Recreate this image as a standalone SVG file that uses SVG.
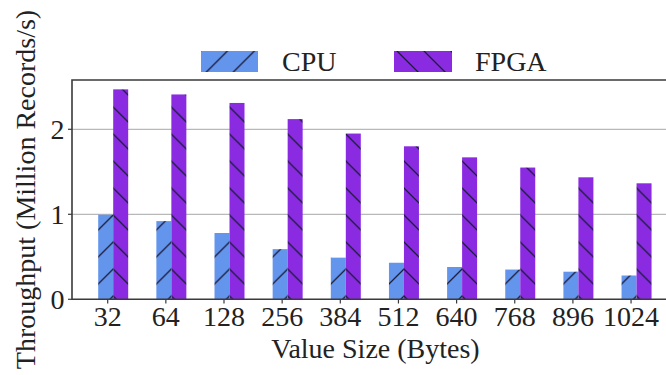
<svg xmlns="http://www.w3.org/2000/svg" width="666" height="375" viewBox="0 0 666 375" font-family="'Liberation Serif', 'DejaVu Serif', 'Times New Roman', serif">
  <style>
    text { font-family: "Liberation Serif", "DejaVu Serif", "Times New Roman", serif; font-size: 28px; fill: #222; }
    .tick { text-anchor: middle; }
    .ytick { text-anchor: end; }
    .spine { stroke: #3a3a3a; stroke-width: 1.6; fill: none; }
    .grid { stroke: #b8b8b8; stroke-width: 1.2; }
    .tk { stroke: #3a3a3a; stroke-width: 1.2; }
    .cpu { fill: url(#hatchCpu); }
    .fpga { fill: url(#hatchFpga); }
  </style>
  <defs>
    <!-- forward-slash hatch over cornflower blue -->
    <pattern id="hatchCpu" patternUnits="userSpaceOnUse" x="0" y="26" width="27" height="27">
      <rect width="27" height="27" fill="#6495ED"/>
      <path d="M-2,2 L2,-2 M0,27 L27,0 M25,29 L29,25" stroke="#1b1b3a" stroke-width="1.3"/>
    </pattern>
    <!-- back-slash hatch over blue-violet -->
    <pattern id="hatchFpga" patternUnits="userSpaceOnUse" x="0" y="26" width="27" height="27">
      <rect width="27" height="27" fill="#8A2BE2"/>
      <path d="M-2,25 L2,29 M0,0 L27,27 M25,-2 L29,2" stroke="#1b1b3a" stroke-width="1.3"/>
    </pattern>
  </defs>

  <!-- horizontal grid lines -->
  <g id="grid">
    <line class="grid" x1="72" y1="129.3" x2="666" y2="129.3"/>
    <line class="grid" x1="72" y1="214.3" x2="666" y2="214.3"/>
  </g>

  <!-- bar pairs: group origin sits on the CPU/FPGA boundary -->
  <g id="bars">
    <g id="bar-32" transform="translate(113.2,0)">
      <rect class="cpu" x="-15" y="214.7" width="15" height="84.6"/>
      <rect class="fpga" x="0" y="89.35" width="15" height="209.95"/>
    </g>
    <g id="bar-64" transform="translate(171.35,0)">
      <rect class="cpu" x="-15" y="221.1" width="15" height="78.2"/>
      <rect class="fpga" x="0" y="94.45" width="15" height="204.85"/>
    </g>
    <g id="bar-128" transform="translate(229.5,0)">
      <rect class="cpu" x="-15" y="233.0" width="15" height="66.3"/>
      <rect class="fpga" x="0" y="102.95" width="15" height="196.35"/>
    </g>
    <g id="bar-256" transform="translate(287.65,0)">
      <rect class="cpu" x="-15" y="249.15" width="15" height="50.15"/>
      <rect class="fpga" x="0" y="119.1" width="15" height="180.2"/>
    </g>
    <g id="bar-384" transform="translate(345.8,0)">
      <rect class="cpu" x="-15" y="257.65" width="15" height="41.65"/>
      <rect class="fpga" x="0" y="133.55" width="15" height="165.75"/>
    </g>
    <g id="bar-512" transform="translate(403.95,0)">
      <rect class="cpu" x="-15" y="262.75" width="15" height="36.55"/>
      <rect class="fpga" x="0" y="146.3" width="15" height="153"/>
    </g>
    <g id="bar-640" transform="translate(462.1,0)">
      <rect class="cpu" x="-15" y="267.0" width="15" height="32.3"/>
      <rect class="fpga" x="0" y="157.35" width="15" height="141.95"/>
    </g>
    <g id="bar-768" transform="translate(520.25,0)">
      <rect class="cpu" x="-15" y="269.55" width="15" height="29.75"/>
      <rect class="fpga" x="0" y="167.55" width="15" height="131.75"/>
    </g>
    <g id="bar-896" transform="translate(578.4,0)">
      <rect class="cpu" x="-15" y="271.7" width="15" height="27.6"/>
      <rect class="fpga" x="0" y="177.3" width="15" height="122"/>
    </g>
    <g id="bar-1024" transform="translate(636.55,0)">
      <rect class="cpu" x="-15" y="275.5" width="15" height="23.8"/>
      <rect class="fpga" x="0" y="183.3" width="15" height="116"/>
    </g>
  </g>

  <!-- axes frame and ticks -->
  <g id="axes">
    <path class="spine" d="M666,80 H72 V299.3 H666"/>
    <line class="tk" x1="68" y1="129.3" x2="72" y2="129.3"/>
    <line class="tk" x1="68" y1="214.3" x2="72" y2="214.3"/>
    <line class="tk" x1="68" y1="299.3" x2="72" y2="299.3"/>
    <line class="tk" x1="107.7" y1="299.3" x2="107.7" y2="303.5"/>
    <line class="tk" x1="165.85" y1="299.3" x2="165.85" y2="303.5"/>
    <line class="tk" x1="224" y1="299.3" x2="224" y2="303.5"/>
    <line class="tk" x1="282.15" y1="299.3" x2="282.15" y2="303.5"/>
    <line class="tk" x1="340.3" y1="299.3" x2="340.3" y2="303.5"/>
    <line class="tk" x1="398.45" y1="299.3" x2="398.45" y2="303.5"/>
    <line class="tk" x1="456.6" y1="299.3" x2="456.6" y2="303.5"/>
    <line class="tk" x1="514.75" y1="299.3" x2="514.75" y2="303.5"/>
    <line class="tk" x1="572.9" y1="299.3" x2="572.9" y2="303.5"/>
    <line class="tk" x1="631.05" y1="299.3" x2="631.05" y2="303.5"/>
  </g>

  <!-- tick labels -->
  <g id="yticks">
    <text class="ytick" x="64.5" y="139">2</text>
    <text class="ytick" x="64.5" y="224">1</text>
    <text class="ytick" x="64.5" y="309">0</text>
  </g>
  <g id="xticks">
    <text class="tick" x="107.7" y="326">32</text>
    <text class="tick" x="165.85" y="326">64</text>
    <text class="tick" x="224" y="326">128</text>
    <text class="tick" x="282.15" y="326">256</text>
    <text class="tick" x="340.3" y="326">384</text>
    <text class="tick" x="398.45" y="326">512</text>
    <text class="tick" x="456.6" y="326">640</text>
    <text class="tick" x="514.75" y="326">768</text>
    <text class="tick" x="572.9" y="326">896</text>
    <text class="tick" x="631.05" y="326">1024</text>
  </g>

  <!-- axis titles -->
  <text id="xlabel" x="375.5" y="358" text-anchor="middle">Value Size (Bytes)</text>
  <text id="ylabel" transform="translate(35,189.5) rotate(-90)" text-anchor="middle">Throughput (Million Records/s)</text>

  <!-- legend -->
  <g id="legend">
    <g id="legend-cpu">
      <g transform="translate(198.4,0)">
        <rect class="cpu" x="2.6" y="51" width="57" height="21"/>
      </g>
      <text x="282" y="71">CPU</text>
    </g>
    <g id="legend-fpga">
      <g transform="translate(372,0)">
        <rect class="fpga" x="22" y="51" width="58" height="21"/>
      </g>
      <text x="475" y="71">FPGA</text>
    </g>
  </g>
</svg>
